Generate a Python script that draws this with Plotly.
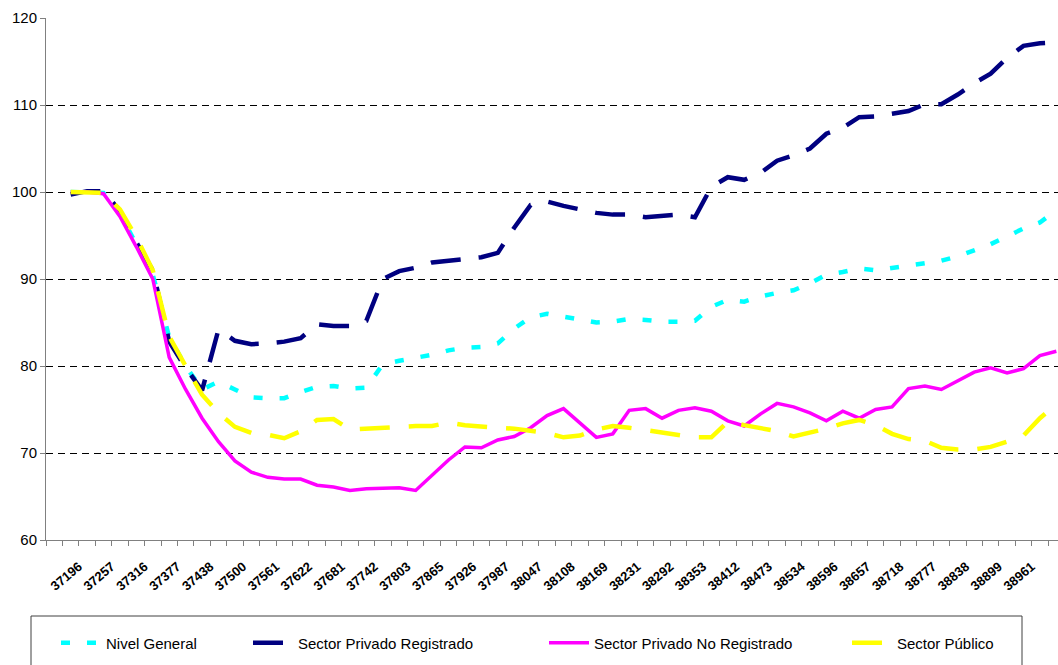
import plotly.graph_objects as go

# monthly index values, Nov-2001 .. Nov-2006 (61 months)
nivel_general = [
    100.0, 100.0, 99.9, 97.5, 94.0, 90.5, 83.3, 80.0, 77.3, 78.2,
    77.3, 76.4, 76.3, 76.3, 77.0, 77.6, 77.7, 77.4, 77.5, 80.2,
    80.6, 80.9, 81.3, 81.8, 82.1, 82.2, 82.6, 84.3, 85.6, 86.0,
    85.7, 85.3, 85.0, 85.1, 85.4, 85.3, 85.1, 85.1, 85.2, 86.8,
    87.6, 87.4, 88.0, 88.4, 88.7, 89.5, 90.5, 90.8, 91.2, 91.0,
    91.3, 91.6, 91.9, 92.1, 92.6, 93.3, 94.0, 94.9, 95.8, 96.5,
    97.9,
]
privado_registrado = [
    99.7, 100.1, 100.1, 97.8, 94.2, 91.0, 82.8, 79.8, 77.2, 84.2,
    82.9, 82.5, 82.6, 82.8, 83.2, 84.8, 84.6, 84.6, 85.2, 90.0,
    90.9, 91.3, 91.9, 92.1, 92.2, 92.5, 93.0, 95.9, 98.5, 98.9,
    98.4, 98.0, 97.6, 97.4, 97.4, 97.1, 97.3, 97.4, 97.1, 100.6,
    101.7, 101.4, 102.2, 103.6, 104.2, 105.0, 106.7, 107.4, 108.6, 108.7,
    109.0, 109.3, 110.1, 110.1, 111.2, 112.5, 113.6, 115.4, 116.8, 117.1,
    117.2,
]
privado_no_registrado = [
    100.0, 100.0, 99.8, 97.2, 93.7, 90.0, 81.0, 77.3, 74.0, 71.3,
    69.1, 67.8, 67.2, 67.0, 67.0, 66.3, 66.1, 65.7, 65.9, 66.0,
    66.0, 65.7, 67.4, 69.2, 70.7, 70.6, 71.5, 71.9, 72.9, 74.3,
    75.1, 73.5, 71.8, 72.2, 74.9, 75.1, 74.0, 74.9, 75.2, 74.8,
    73.7, 73.1, 74.5, 75.7, 75.3, 74.6, 73.7, 74.8, 74.0, 75.0,
    75.3, 77.4, 77.7, 77.3, 78.3, 79.3, 79.8, 79.2, 79.7, 81.2,
    81.7,
]
sector_publico = [
    100.0, 100.0, 99.9, 98.0, 94.8, 91.0, 83.4, 80.0, 76.7, 74.6,
    73.0, 72.3, 72.1, 71.7, 72.5, 73.8, 73.9, 72.7, 72.8, 73.0,
    73.1, 73.1, 73.1, 73.5, 73.2, 73.0, 72.9, 72.8, 72.6, 72.3,
    71.8, 72.0, 72.7, 73.1, 72.9, 72.6, 72.3, 72.0, 71.8, 71.8,
    73.6, 73.2, 72.9, 72.5, 71.9, 72.3, 72.8, 73.4, 73.8, 73.2,
    72.2, 71.6, 71.4, 70.6, 70.4, 70.4, 70.7, 71.3, 72.0, 74.0,
    75.6,
]

# axis labels (Excel date serials, every second month)
etiquetas = [
    "37196", "37257", "37316", "37377", "37438", "37500", "37561", "37622",
    "37681", "37742", "37803", "37865", "37926", "37987", "38047", "38108",
    "38169", "38231", "38292", "38353", "38412", "38473", "38534", "38596",
    "38657", "38718", "38777", "38838", "38899", "38961",
]

meses = list(range(len(nivel_general)))

W, H = 1058, 665
L, R, T, B = 46, 0, 18, 125
PW, PH = W - L - R, H - T - B


def px_x(x):
    return (x - L) / PW


def px_y(y):
    return (H - B - y) / PH


series = [
    ("Nivel General", nivel_general, "#00FFFF", "9px,17px", 4.5, 56),
    ("Sector Privado Registrado", privado_registrado, "#000080", "30px,18px", 4.5, 248),
    ("Sector Privado No Registrado", privado_no_registrado, "#FF00FF", "solid", 3.5, 544),
    ("Sector Público", sector_publico, "#FFFF00", "30px,19px", 4.5, 847),
]

fig = go.Figure()

for k, (name, vals, color, dash, width, lx) in enumerate(series):
    leg = "legend" if k == 0 else f"legend{k + 1}"
    fig.add_trace(
        go.Scatter(
            x=meses,
            y=vals,
            name=name,
            mode="lines",
            line=dict(color=color, dash=dash, width=width),
            legend=leg,
        )
    )
    fig.update_layout(
        {
            leg: dict(
                x=px_x(lx),
                y=px_y(643),
                xanchor="left",
                yanchor="middle",
                bgcolor="rgba(0,0,0,0)",
                borderwidth=0,
                itemwidth=40,
                font=dict(family="Arial, Liberation Sans", size=15, color="#000000"),
            )
        }
    )

fig.add_shape(
    type="rect",
    xref="paper",
    yref="paper",
    x0=px_x(31),
    x1=px_x(1022),
    y0=px_y(616),
    y1=px_y(690),
    line=dict(color="#404040", width=1),
    fillcolor="rgba(0,0,0,0)",
)

fig.update_layout(
    width=W,
    height=H,
    margin=dict(l=L, r=R, t=T, b=B),
    paper_bgcolor="#FFFFFF",
    plot_bgcolor="#FFFFFF",
    showlegend=True,
    font=dict(family="Arial, Liberation Sans", size=15, color="#000000"),
    xaxis=dict(
        range=[-1.5, 60.1],
        tickmode="array",
        tickvals=[2 * k + 0.5 for k in range(len(etiquetas))],
        ticktext=etiquetas,
        tickangle=-40,
        tickfont=dict(family="Arial, Liberation Sans", size=13, color="#000000", weight="bold"),
        ticklabelstandoff=8,
        ticks="outside",
        ticklen=5,
        tickcolor="#808080",
        showgrid=False,
        showline=True,
        linecolor="#808080",
        linewidth=1,
        zeroline=False,
        minor=dict(
            tickmode="linear",
            tick0=-0.5,
            dtick=1,
            ticks="outside",
            ticklen=5,
            tickcolor="#808080",
            showgrid=False,
        ),
    ),
    yaxis=dict(
        range=[60, 120],
        dtick=10,
        tickfont=dict(family="Arial, Liberation Sans", size=15, color="#000000"),
        ticks="outside",
        ticklen=5,
        tickcolor="#808080",
        showline=True,
        linecolor="#808080",
        linewidth=1,
        showgrid=True,
        gridcolor="#000000",
        gridwidth=1,
        griddash="7px,5px",
        zeroline=False,
    ),
)

# drop the browser's default body margin so the figure sits at the page origin
fig.write_html(
    "out.html",
    config={"displayModeBar": False},
    post_script="document.body.style.margin = '0';",
)
